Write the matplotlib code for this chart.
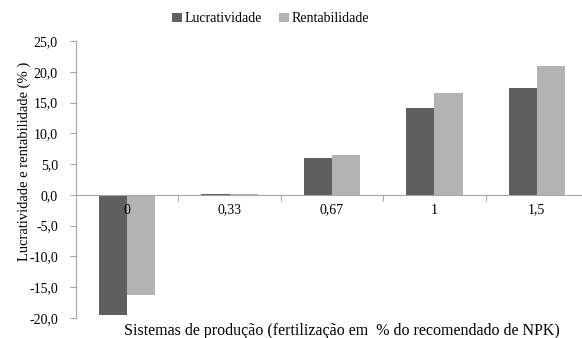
import matplotlib.pyplot as plt
import numpy as np

plt.rcParams['font.family'] = ['Liberation Serif', 'DejaVu Serif']

categorias = ["0", "0,33", "0,67", "1", "1,5"]
lucratividade = [-19.5, 0.1, 6.0, 14.1, 17.3]
rentabilidade = [-16.3, 0.1, 6.4, 16.5, 21.0]

fig = plt.figure(figsize=(5.82, 3.38), dpi=100)
ax = fig.add_axes([76 / 582, 20 / 338, 512 / 582, 277 / 338])

x = np.arange(len(categorias))
w = 0.275
ax.bar(x - w / 2, lucratividade, w, color="#5f5f5f", label="Lucratividade")
ax.bar(x + w / 2, rentabilidade, w, color="#b3b3b3", label="Rentabilidade")

ax.set_xlim(-0.5, len(categorias) - 0.5)
ax.set_ylim(-20, 25)
ax.set_yticks(np.arange(-20, 26, 5))
ax.set_yticklabels([f"{v:.1f}".replace(".", ",") for v in np.arange(-20, 26, 5)], fontsize=10)

for s in ["top", "right"]:
    ax.spines[s].set_visible(False)
ax.spines["left"].set_color("#a6a6a6")
ax.spines["bottom"].set_position(("data", 0))
ax.spines["bottom"].set_color("#a6a6a6")
ax.set_xticks(x[:-1] + 0.5)
ax.set_xticklabels([])
ax.tick_params(axis="both", colors="#a6a6a6", length=4, labelcolor="black", pad=9)

for xi, c in zip(x, categorias):
    ax.text(xi, -1.4, c, ha="center", va="top", fontsize=10)

ax.set_ylabel("Lucratividade e rentabilidade (% )", fontsize=10.5)
ax.yaxis.set_label_coords(-0.088, 0.567)
fig.text(0.587, 0.021, "Sistemas de produção (fertilização em  % do recomendado de NPK)",
         ha="center", va="center", fontsize=11.5)

ax.legend(loc="center", bbox_to_anchor=(0.38, 1.08), ncol=2, frameon=False,
          fontsize=10, handlelength=0.7, handleheight=0.7, handletextpad=0.2, columnspacing=1.2)

fig.savefig("out.png")
